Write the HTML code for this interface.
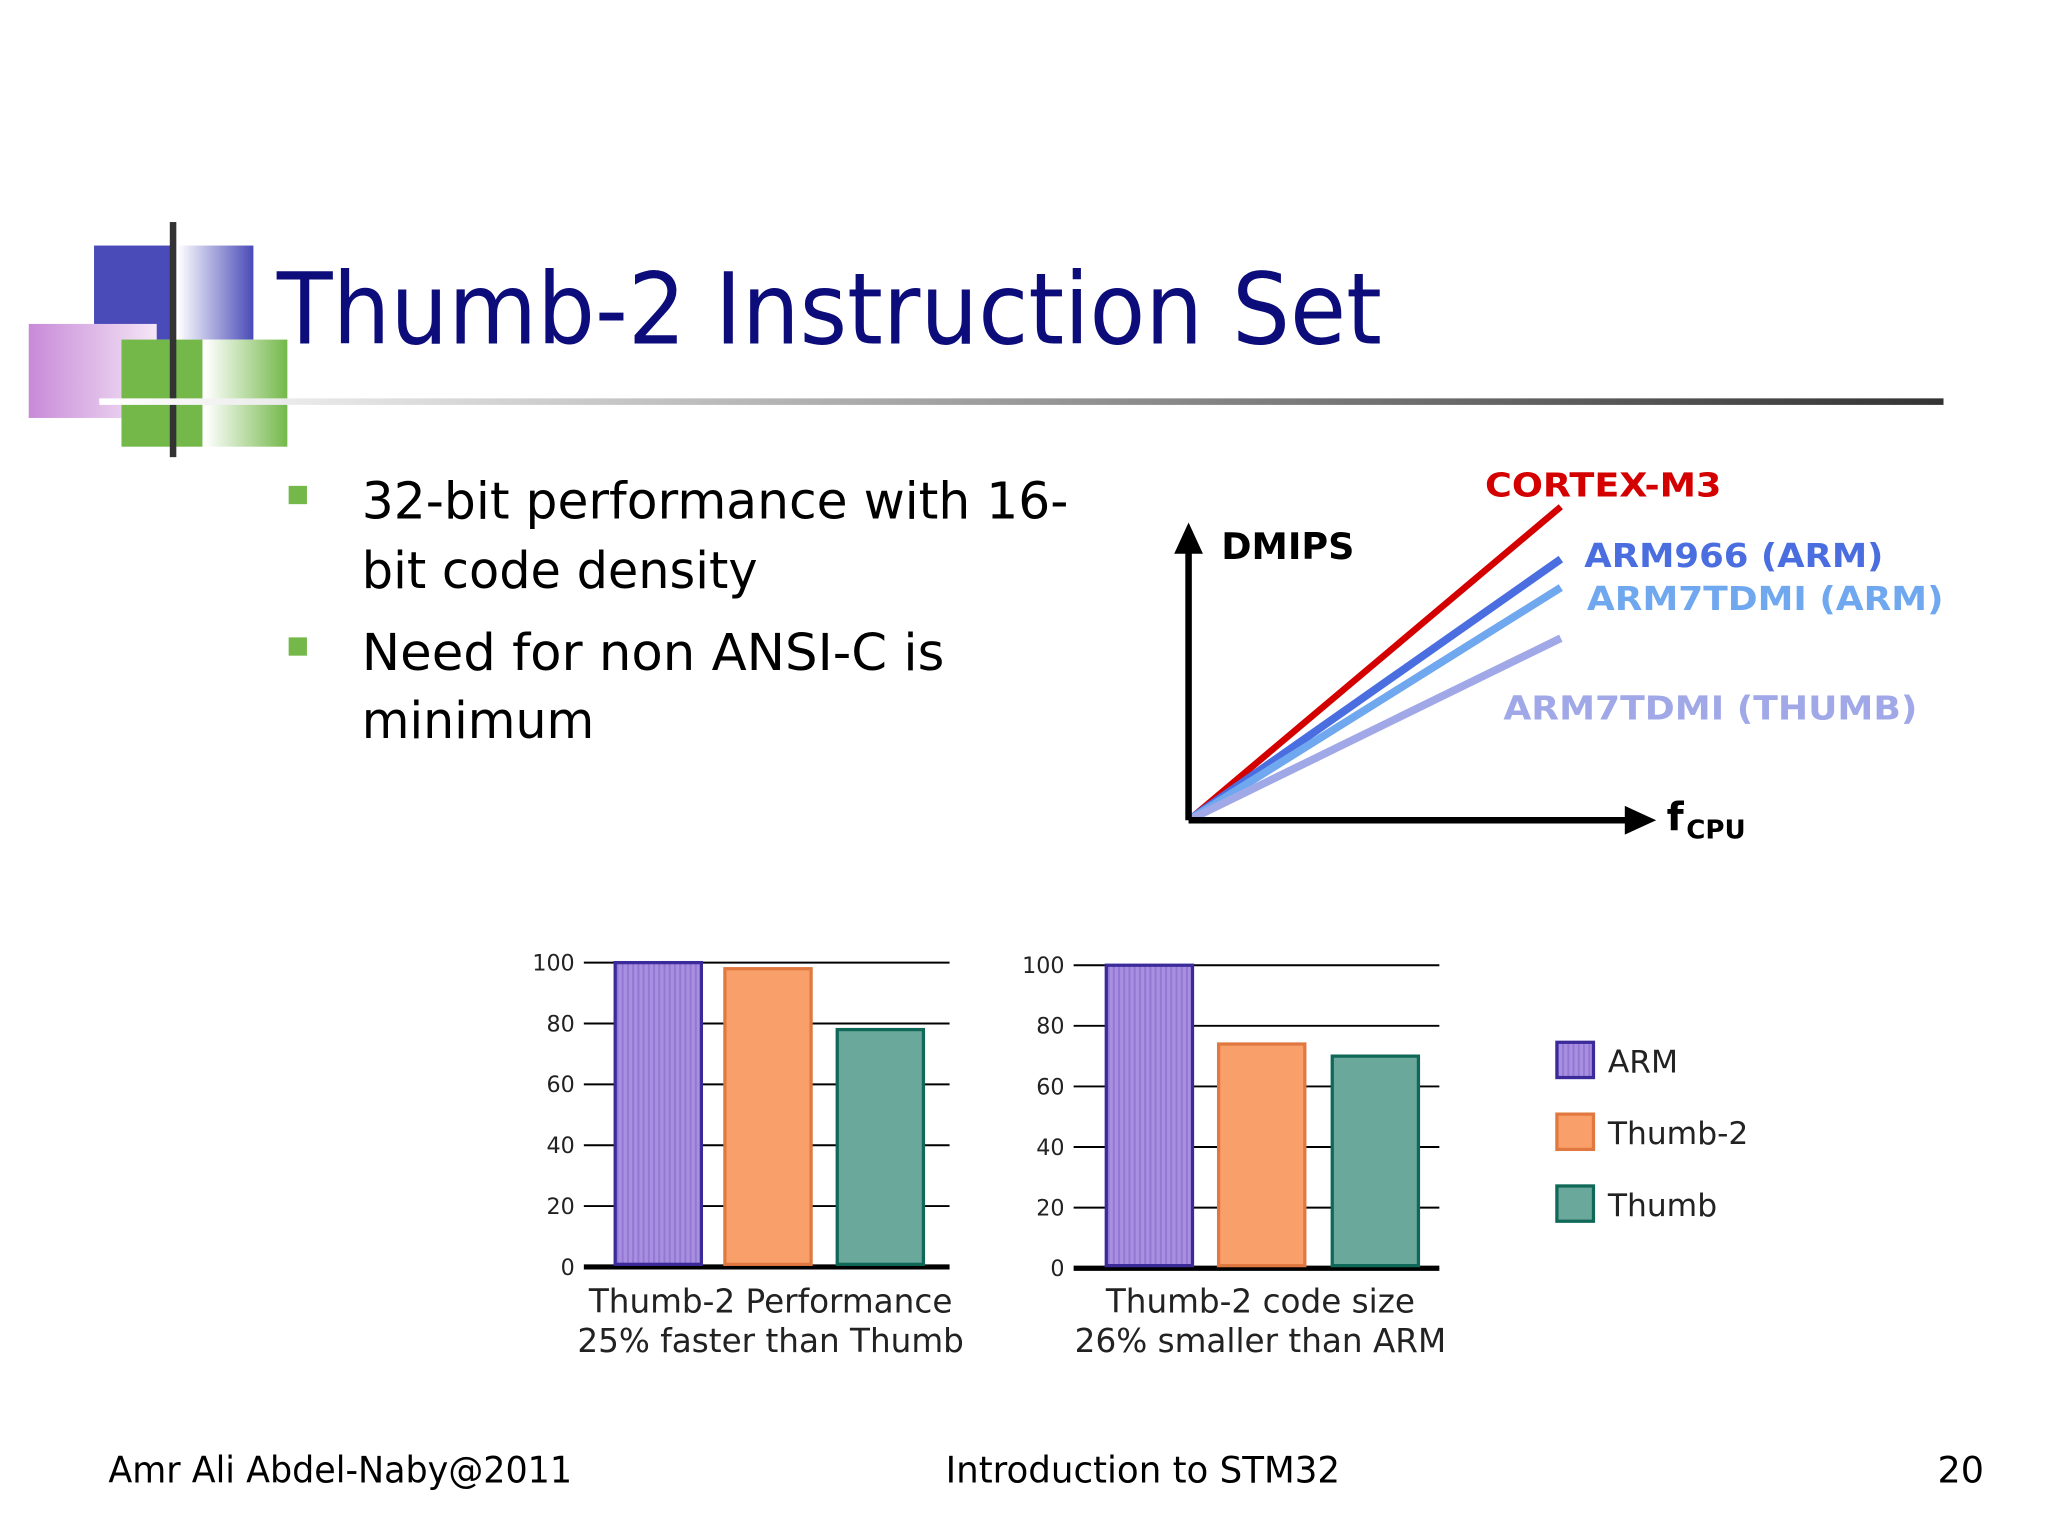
<!DOCTYPE html>
<html><head><meta charset="utf-8"><style>
html,body{margin:0;padding:0;background:#fff;}
svg{display:block;}
text{font-family:"DejaVu Sans","Liberation Sans",sans-serif;}
</style></head><body>
<svg id="s" width="2048" height="1536" viewBox="0 0 1568 1176" xmlns="http://www.w3.org/2000/svg">
<defs>
<linearGradient id="gB" x1="0" x2="1"><stop offset="0" stop-color="#fff"/><stop offset="1" stop-color="#4a4ab8"/></linearGradient>
<linearGradient id="gP" x1="0" x2="1"><stop offset="0" stop-color="#c88ad8"/><stop offset="1" stop-color="#f4e6f6"/></linearGradient>
<linearGradient id="gG" x1="0" x2="1"><stop offset="0" stop-color="#fff"/><stop offset="1" stop-color="#74b84a"/></linearGradient>
<linearGradient id="gL" x1="0" x2="1"><stop offset="0" stop-color="#fff"/><stop offset="1" stop-color="#333"/></linearGradient>
<pattern id="stripe" width="4" height="10" patternUnits="userSpaceOnUse"><rect width="4" height="10" fill="#a88fe0"/><rect width="1.5" height="10" fill="#9278d2"/></pattern>
</defs>
<g>
<rect x="72" y="188" width="62" height="72" fill="#4a4ab8"/>
<rect x="136" y="188" width="58" height="72" fill="url(#gB)"/>
<rect x="22" y="248" width="98" height="72" fill="url(#gP)"/>
<rect x="93" y="260" width="62" height="82" fill="#74b84a"/>
<rect x="157" y="260" width="63" height="82" fill="url(#gG)"/>
<rect x="130" y="170" width="5" height="180" fill="#333"/>
<rect x="76" y="305" width="1412" height="5" fill="url(#gL)"/>
</g>
<text x="212" y="263" font-size="76" fill="#0c0c7a" textLength="846" lengthAdjust="spacingAndGlyphs">Thumb-2 Instruction Set</text>
<g font-size="39" fill="#000">
<rect x="221" y="372" width="14" height="14" fill="#74b84a"/>
<text x="277" y="397" textLength="541" lengthAdjust="spacingAndGlyphs">32-bit performance with 16-</text>
<text x="277" y="450" textLength="303" lengthAdjust="spacingAndGlyphs">bit code density</text>
<rect x="221" y="488" width="14" height="14" fill="#74b84a"/>
<text x="277" y="513" textLength="446" lengthAdjust="spacingAndGlyphs">Need for non ANSI-C is</text>
<text x="277" y="565" textLength="178" lengthAdjust="spacingAndGlyphs">minimum</text>
</g>
<g id="lc"></g>
<g id="b1"></g>
<g id="b2"></g>
<g id="lg"></g>
<g font-size="28" fill="#000">
<text x="83" y="1135" textLength="355" lengthAdjust="spacingAndGlyphs">Amr Ali Abdel-Naby@2011</text>
<text x="724" y="1135" textLength="302" lengthAdjust="spacingAndGlyphs">Introduction to STM32</text>
<text x="1519" y="1135" text-anchor="end">20</text>
</g>
</svg>
<script>
const NS="http://www.w3.org/2000/svg";
const lineNames=["CORTEX-M3","ARM966 (ARM)","ARM7TDMI (ARM)","ARM7TDMI (THUMB)"];
const lineSlopes=[0.706,0.588,0.524,0.41];
const lineColors=["#d40000","#4a6ee0","#70a8f0","#a0a8e8"];
const cats=["ARM","Thumb-2","Thumb"];
const perfValues=[100,98,78];
const sizeValues=[100,74,70];
const ticks=[0,20,40,60,80,100];
function mk(p,t,a,txt){const e=document.createElementNS(NS,t);for(const k in a)e.setAttribute(k,a[k]);if(txt!==undefined)e.textContent=txt;p.appendChild(e);return e;}
const lc=document.getElementById('lc');
const ox=910,oy=628,xEnd=1195,fullH=340;
function ly(s){return oy-s*fullH;}
lineSlopes.forEach((s,i)=>{
 const l=mk(lc,'line',{x1:ox,y1:oy,x2:xEnd,y2:ly(s),stroke:lineColors[i],'stroke-width':i==0?5:6});
 
 
});
const labPos=[[1137,380,181],[1213,434,229],[1215,467,273],[1151,551,317]];
lineNames.forEach((n,i)=>{const t=mk(lc,'text',{x:labPos[i][0],y:labPos[i][1],'font-size':25,'font-weight':'bold',fill:lineColors[i],textLength:labPos[i][2],lengthAdjust:'spacingAndGlyphs'},n);
 
 });
mk(lc,'line',{x1:ox,y1:oy,x2:ox,y2:418,stroke:'#000','stroke-width':5});
mk(lc,'polygon',{points:`${ox-11},424 ${ox},400 ${ox+11},424`,fill:'#000'});
mk(lc,'line',{x1:ox,y1:oy,x2:1248,y2:oy,stroke:'#000','stroke-width':5});
mk(lc,'polygon',{points:`1244,617 1268,628 1244,639`,fill:'#000'});
mk(lc,'text',{x:935,y:428,'font-size':28,'font-weight':'bold',textLength:102,lengthAdjust:'spacingAndGlyphs'},'DMIPS');
mk(lc,'text',{x:1276,y:636,'font-size':30,'font-weight':'bold'},'f');
mk(lc,'text',{x:1291,y:642,'font-size':20,'font-weight':'bold'},'CPU');
const fills=["url(#stripe)","#f9a06a","#6aa89c"],strokes=["#3a2a9a","#e07840","#106858"];
function bars(id,vals,x0,x1,y0,y100,bx,cap){
 const g=document.getElementById(id);
 const Y=v=>y0-(y0-y100)*v/100;
 ticks.forEach(t=>{
  mk(g,'line',{x1:x0,y1:Y(t),x2:x1,y2:Y(t),stroke:'#000','stroke-width':t==0?4:1.5});
  mk(g,'text',{x:x0-7,y:Y(t)+6,'font-size':17,'text-anchor':'end',fill:'#222'},t);
 });
 vals.forEach((v,i)=>{
  const r=mk(g,'rect',{x:bx[i],y:Y(v),width:66,height:y0-Y(v)-2,fill:fills[i],stroke:strokes[i],'stroke-width':2.5});
  
  
 });
 mk(g,'text',{x:(x0+x1)/2+3,y:1005,'font-size':25,'text-anchor':'middle',fill:'#222'},cap[0]);
 mk(g,'text',{x:(x0+x1)/2+3,y:1035,'font-size':25,'text-anchor':'middle',fill:'#222'},cap[1]);
}
bars('b1',perfValues,447,727,970,737,[471,555,641],["Thumb-2 Performance","25% faster than Thumb"]);
bars('b2',sizeValues,822,1102,971,739,[847,933,1020],["Thumb-2 code size","26% smaller than ARM"]);
const lg=document.getElementById('lg');
cats.forEach((c,i)=>{
 const y=798+i*55;
 mk(lg,'rect',{x:1192,y:y,width:28,height:27,fill:fills[i],stroke:strokes[i],'stroke-width':2.5});
 const t=mk(lg,'text',{x:1231,y:y+23,'font-size':24,fill:'#222'},c);
 
 
});
</script>
</body></html>
